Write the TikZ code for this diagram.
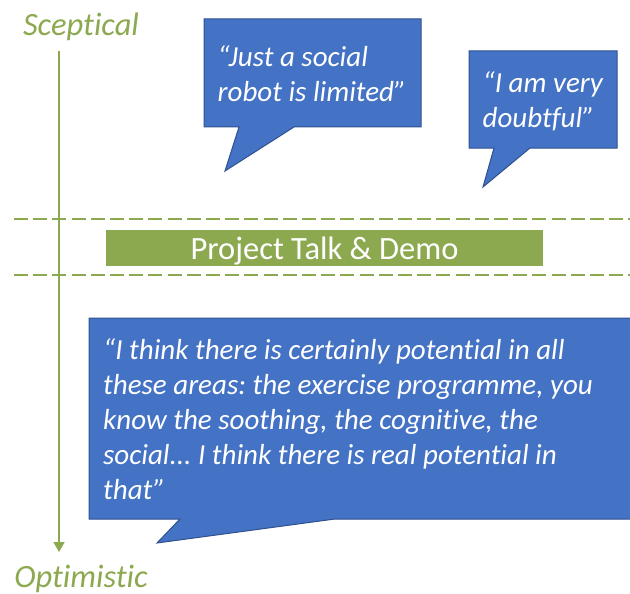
\documentclass[tikz,border=0pt]{standalone}
\usepackage{fontspec}
\setmainfont[Ligatures=NoCommon]{Carlito}
\usetikzlibrary{arrows.meta}
\definecolor{gr}{HTML}{8CA950}
\definecolor{bl}{HTML}{4472C4}
\definecolor{bledge}{HTML}{2F528F}
\tikzset{
  x=1pt,y=-1pt,
  bubble/.style={fill=bl,draw=bledge,line width=1pt,line join=miter},
  quote/.style={text=white,font=\fontsize{29}{35}\selectfont\itshape\frenchspacing,align=left,anchor=north west,inner sep=0pt},
  axislabel/.style={text=gr,font=\fontsize{32.5}{35}\selectfont\itshape,inner sep=0pt},
  limit/.style={draw=gr,line width=1.6pt,dash pattern=on 14pt off 5.2pt},
  axisline/.style={draw=gr,line width=1.6pt,-{Triangle[length=10pt,width=11pt]}},
  bar/.style={fill=gr,text=white,font=\fontsize{32.5}{35}\selectfont,minimum width=437pt,minimum height=36pt,inner sep=0pt,text depth=0pt,text height=22pt}
}
\begin{document}
\begin{tikzpicture}
\useasboundingbox (0,0) rectangle (630,594);
\coordinate (axisTop) at (59,51);
\coordinate (axisEnd) at (59,552);
\coordinate (dashA1) at (14,219);
\coordinate (dashA2) at (630,219);
\coordinate (dashB1) at (14,275);
\coordinate (dashB2) at (630,275);
\draw[limit] (dashA1) -- (dashA2);
\draw[limit] (dashB1) -- (dashB2);
\draw[axisline] (axisTop) -- (axisEnd);
\node[axislabel] (sceptical) at (81,27) {Sceptical};
\node[axislabel] (optimistic) at (81,578.5) {Optimistic};
\node[bar] (talk) at (324.5,248) {Project Talk \& Demo};
\draw[bubble] (204,19) -- (421,19) -- (421,127) -- (294,127) -- (225,171) -- (239,127) -- (204,127) -- cycle;
\draw[bubble] (469,51) -- (617,51) -- (617,148) -- (530,148) -- (483,187) -- (494,148) -- (469,148) -- cycle;
\draw[bubble] (89,318) -- (631,318) -- (631,519) -- (335,519) -- (157,543) -- (180,519) -- (89,519) -- cycle;
\node[quote] (q1) at (217.5,45) {“Just a social\\robot is limited”};
\node[quote] (q2) at (482.5,71) {“I am very\\doubtful”};
\node[quote] (q3) at (103,338) {“I think there is certainly potential in all\\these areas: the exercise programme, you\\know the soothing, the cognitive, the\\social... I think there is real potential in\\that”};
\end{tikzpicture}
\end{document}
